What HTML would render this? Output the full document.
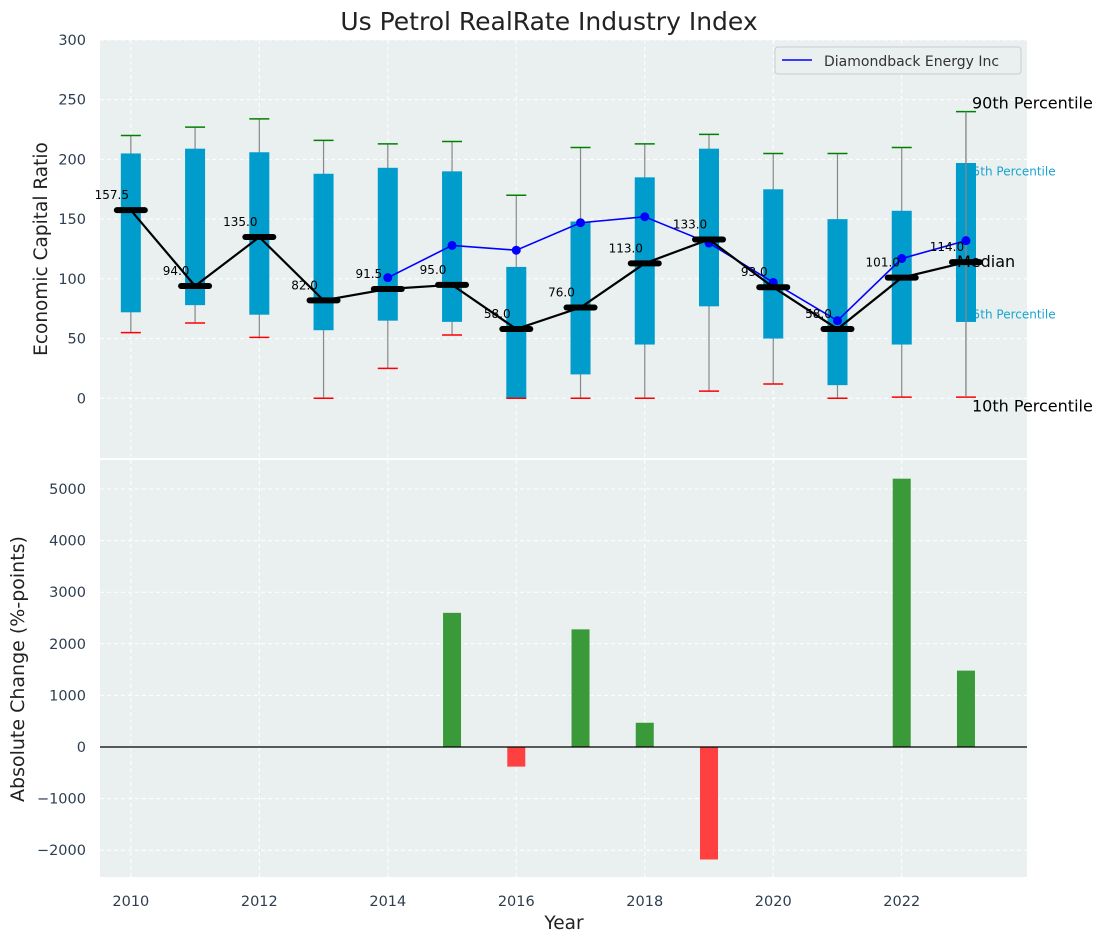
<!DOCTYPE html>
<html><head><meta charset="utf-8"><style>
body{margin:0;background:#fff;font-family:"Liberation Sans","DejaVu Sans",sans-serif}
svg text{font-family:"DejaVu Sans","Liberation Sans",sans-serif}
</style></head><body>
<svg id="c" width="1107" height="942" xmlns="http://www.w3.org/2000/svg"></svg>
<script>
const years=[2010,2011,2012,2013,2014,2015,2016,2017,2018,2019,2020,2021,2022,2023];
const whiskLo=[55,63,51,0,25,53,0,0,0,6,12,0,1,1];
const whiskHi=[220,227,234,216,213,215,170,210,213,221,205,205,210,240];
const q1=[72,78,70,57,65,64,0,20,45,77,50,11,45,64];
const q3=[205,209,206,188,193,190,110,148,185,209,175,150,157,197];
const medians=[157.5,94,135,82,91.5,95,58,76,113,133,93,58,101,114];
const companyYears=[2014,2015,2016,2017,2018,2019,2020,2021,2022,2023];
const companyVals=[101,128,124,147,152,130,97,65,117,132];
const changeYears=[2015,2016,2017,2018,2019,2022,2023];
const changeVals=[2600,-380,2280,470,-2180,5200,1480];
const topTicks=[0,50,100,150,200,250,300];
const botTicks=[-2000,-1000,0,1000,2000,3000,4000,5000];
const xTicks=[2010,2012,2014,2016,2018,2020,2022];

const S=document.getElementById('c');const NS='http://www.w3.org/2000/svg';
function el(t,a,txt){const e=document.createElementNS(NS,t);for(const k in a)e.setAttribute(k,a[k]);if(txt!==undefined)e.textContent=txt;S.appendChild(e);return e;}
const L=100,R=1027;
const X=y=>L+(y-2009.52)/(2023.95-2009.52)*(R-L);
const T0=40,T1=458,Y1=v=>T1-(v+50)/350*(T1-T0);
const B0=460,B1=877,Y2=v=>747-v*(747-489)/5000;

let e;
e=el('rect',{x:L,y:T0,width:R-L,height:T1-T0,fill:'#eaeff0'});

e=el('rect',{x:L,y:B0,width:R-L,height:B1-B0,fill:'#eaeff0'});

xTicks.forEach(t=>{el('line',{x1:X(t),x2:X(t),y1:T0,y2:T1,stroke:'#fff','stroke-dasharray':'4,3'});el('line',{x1:X(t),x2:X(t),y1:B0,y2:B1,stroke:'#fff','stroke-dasharray':'4,3'});
 e=el('text',{x:X(t),y:906,'text-anchor':'middle','font-size':14.5,fill:'#2d3e50'},t);});
topTicks.forEach(t=>{el('line',{x1:L,x2:R,y1:Y1(t),y2:Y1(t),stroke:'#fff','stroke-dasharray':'4,3'});
 e=el('text',{x:86,y:Y1(t)+5,'text-anchor':'end','font-size':14.5,fill:'#2d3e50'},t);});
botTicks.forEach(t=>{el('line',{x1:L,x2:R,y1:Y2(t),y2:Y2(t),stroke:'#fff','stroke-dasharray':'4,3'});
 e=el('text',{x:86,y:Y2(t)+5,'text-anchor':'end','font-size':14.5,fill:'#2d3e50'},String(t).replace('-','\u2212'));});

years.forEach((y,i)=>{const x=X(y);
 el('line',{x1:x,x2:x,y1:Y1(whiskLo[i]),y2:Y1(whiskHi[i]),stroke:'#888','stroke-width':1.2});
 e=el('rect',{x:x-10,y:Y1(q3[i]),width:20,height:Y1(q1[i])-Y1(q3[i]),fill:'#009ccc'});
 el('line',{x1:x-10,x2:x+10,y1:Y1(whiskHi[i]),y2:Y1(whiskHi[i]),stroke:'green','stroke-width':1.5});
 el('line',{x1:x-10,x2:x+10,y1:Y1(whiskLo[i]),y2:Y1(whiskLo[i]),stroke:'red','stroke-width':1.5});
});
e=el('text',{x:965,y:Y1(190)+4,'font-size':12,fill:'#1aa3d0'},'75th Percentile');
e=el('text',{x:965,y:Y1(70)+4,'font-size':12,fill:'#1aa3d0'},'25th Percentile');
{const i=13,x=X(2023);el('rect',{x:x-10,y:Y1(q3[i]),width:20,height:Y1(q1[i])-Y1(q3[i]),fill:'#009ccc'});el('line',{x1:x,x2:x,y1:Y1(whiskLo[i]),y2:Y1(whiskHi[i]),stroke:'#888','stroke-width':1.2});}
e=el('polyline',{points:companyYears.map((y,i)=>X(y)+','+Y1(companyVals[i])).join(' '),fill:'none',stroke:'blue','stroke-width':1.6});
companyYears.forEach((y,i)=>{e=el('circle',{cx:X(y),cy:Y1(companyVals[i]),r:4.5,fill:'blue'});});
e=el('polyline',{points:years.map((y,i)=>X(y)+','+Y1(medians[i])).join(' '),fill:'none',stroke:'#000','stroke-width':2.2});
years.forEach((y,i)=>{const x=X(y);
 e=el('line',{x1:x-14,x2:x+14,y1:Y1(medians[i]),y2:Y1(medians[i]),stroke:'#000','stroke-width':6,'stroke-linecap':'round'});
 e=el('text',{x:x-19,y:Y1(medians[i])-11,'text-anchor':'middle','font-size':12,fill:'#000'},medians[i].toFixed(1));});
[['90th Percentile',Y1(240)-3],['Median',Y1(114)+5],['10th Percentile',Y1(0)+13]].forEach(([t,y],k)=>{e=el('text',{x:k==1?957:972,y:y,'font-size':16,fill:'#000'},t);});
e=el('rect',{x:775,y:47,width:246,height:27,rx:3,fill:'#eaeff0',stroke:'#ccc'});
el('line',{x1:782,x2:812,y1:60,y2:60,stroke:'blue','stroke-width':1.6});
e=el('text',{x:824,y:66,'font-size':14,fill:'#333'},'Diamondback Energy Inc');
changeYears.forEach((y,i)=>{const v=changeVals[i];const a=Y2(Math.max(v,0)),b=Y2(Math.min(v,0));
 e=el('rect',{x:X(y)-9,y:a,width:18,height:b-a,fill:v>=0?'#3a9a3a':'#ff4040'});});
el('line',{x1:L,x2:R,y1:Y2(0),y2:Y2(0),stroke:'#000','stroke-width':1.2});
e=el('text',{x:549,y:30,'text-anchor':'middle','font-size':25,fill:'#222'},'Us Petrol RealRate Industry Index');
e=el('text',{x:564,y:929,'text-anchor':'middle','font-size':18.5,fill:'#222'},'Year');
e=el('text',{x:47,y:249,'text-anchor':'middle','font-size':18.5,fill:'#222',transform:'rotate(-90 47 249)'},'Economic Capital Ratio');
e=el('text',{x:24,y:669,'text-anchor':'middle','font-size':19,fill:'#222',transform:'rotate(-90 24 669)'},'Absolute Change (%-points)');
</script>
</body></html>
